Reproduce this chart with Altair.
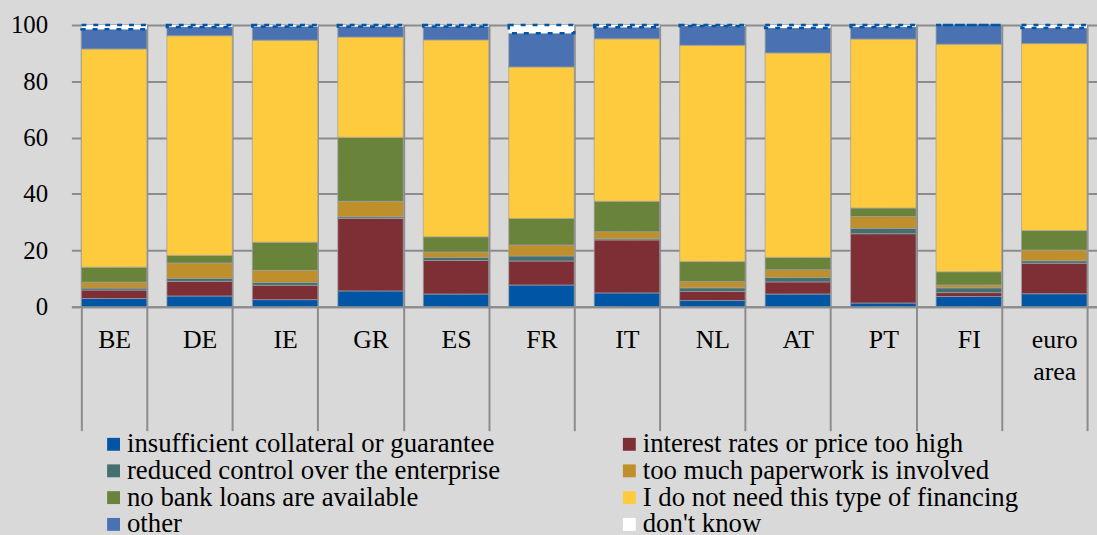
import altair as alt
import pandas as pd

countries = ["BE", "DE", "IE", "GR", "ES", "FR", "IT", "NL", "AT", "PT", "FI", "euro area"]
causes = [
    "insufficient collateral or guarantee",
    "interest rates or price too high",
    "reduced control over the enterprise",
    "too much paperwork is involved",
    "no bank loans are available",
    "I do not need this type of financing",
    "other",
    "don't know",
]
colors = ["#0055a4", "#7e2e35", "#456e6e", "#be8f2a", "#69833b", "#fecb3e", "#4a71b2", "#ffffff"]
# legend laid out column by column: left column first, then right column
legend_order = [causes[0], causes[2], causes[4], causes[6],
                causes[1], causes[3], causes[5], causes[7]]

insufficient = [2.9, 3.8, 2.5, 5.6, 4.5, 7.7, 4.9, 2.2, 4.5, 1.3, 3.6, 4.6]
interest = [3.0, 5.2, 5.1, 25.7, 11.9, 8.5, 18.8, 3.2, 4.3, 24.6, 1.4, 10.8]
control = [0.7, 1.1, 1.0, 0.6, 1.1, 1.8, 0.4, 1.3, 1.6, 1.9, 1.7, 0.9]
paperwork = [2.1, 5.4, 4.3, 5.5, 1.9, 3.9, 2.5, 2.2, 2.7, 4.2, 1.0, 3.8]
nobank = [5.3, 2.7, 10.0, 22.7, 5.4, 9.4, 10.8, 7.1, 4.4, 3.0, 4.7, 6.9]
noneed = [77.5, 78.0, 71.7, 35.6, 69.9, 53.8, 57.7, 76.8, 72.6, 60.0, 80.8, 66.4]
other = [7.0, 3.1, 4.9, 3.8, 4.8, 12.0, 4.1, 6.8, 8.8, 4.3, 6.8, 5.5]
dontknow = [1.5, 0.7, 0.5, 0.5, 0.5, 2.9, 0.8, 0.4, 1.1, 0.7, 0.0, 1.1]

series = [insufficient, interest, control, paperwork, nobank, noneed, other, dontknow]
rows = []
for ci, (cause, vals) in enumerate(zip(causes, series)):
    for c, v in zip(countries, vals):
        rows.append({"country": c, "cause": cause, "value": v, "idx": ci})
df = pd.DataFrame(rows)

font = "'Liberation Serif', 'Times New Roman', 'DejaVu Serif', serif"
is_dk = "datum.cause == \"don't know\""

chart = alt.Chart(df).mark_bar().encode(
    x=alt.X("country:N", sort=countries, title=None,
            scale=alt.Scale(paddingInner=0.234, paddingOuter=0.117),
            axis=alt.Axis(labelAngle=0, tickBand="extent", tickSize=125, tickWidth=2,
                          tickColor="#8c8c8c", grid=True, gridColor="#8c8c8c", gridWidth=2,
                          domainColor="#8c8c8c", domainWidth=2, labelPadding=-105,
                          labelFont=font, labelFontSize=26, labelColor="#000000",
                          labelLineHeight=32,
                          labelExpr="datum.value == 'euro area' ? ['euro', 'area'] : datum.value")),
    y=alt.Y("sum(value):Q", title=None, stack="zero",
            scale=alt.Scale(domain=[0, 100], nice=False),
            axis=alt.Axis(values=[0, 20, 40, 60, 80, 100], ticks=False, domain=False,
                          gridColor="#8c8c8c", gridWidth=2, labelPadding=24,
                          labelFont=font, labelFontSize=25, labelColor="#000000")),
    color=alt.Color("cause:N", sort=causes,
                    scale=alt.Scale(domain=causes, range=colors),
                    legend=alt.Legend(title=None, orient="none", legendX=29, legendY=409,
                                      values=legend_order, direction="vertical",
                                      columns=2, columnPadding=116, rowPadding=-1, padding=0,
                                      labelFont=font, labelFontSize=27, labelColor="#000000",
                                      symbolType="square", symbolSize=169,
                                      symbolStrokeWidth=0, symbolOpacity=1, labelOffset=0,
                                      labelLimit=600)),
    order=alt.Order("idx:Q", sort="ascending"),
    stroke=alt.condition(is_dk, alt.value("#0055a4"), alt.value("#a0a0a0")),
    strokeWidth=alt.condition(is_dk, alt.value(2.5), alt.value(0.8)),
    strokeDash=alt.condition(is_dk, alt.value([5, 7]), alt.value([1, 0])),
).properties(
    width=1034, height=284,
    background="#d9d9d9",
    padding={"left": 72, "top": 23, "right": 0, "bottom": 228},
    autosize=alt.AutoSizeParams(type="none"),
).configure(font=font).configure_view(stroke=None)

chart.save("out.html", embed_options={"renderer": "svg", "actions": False})
